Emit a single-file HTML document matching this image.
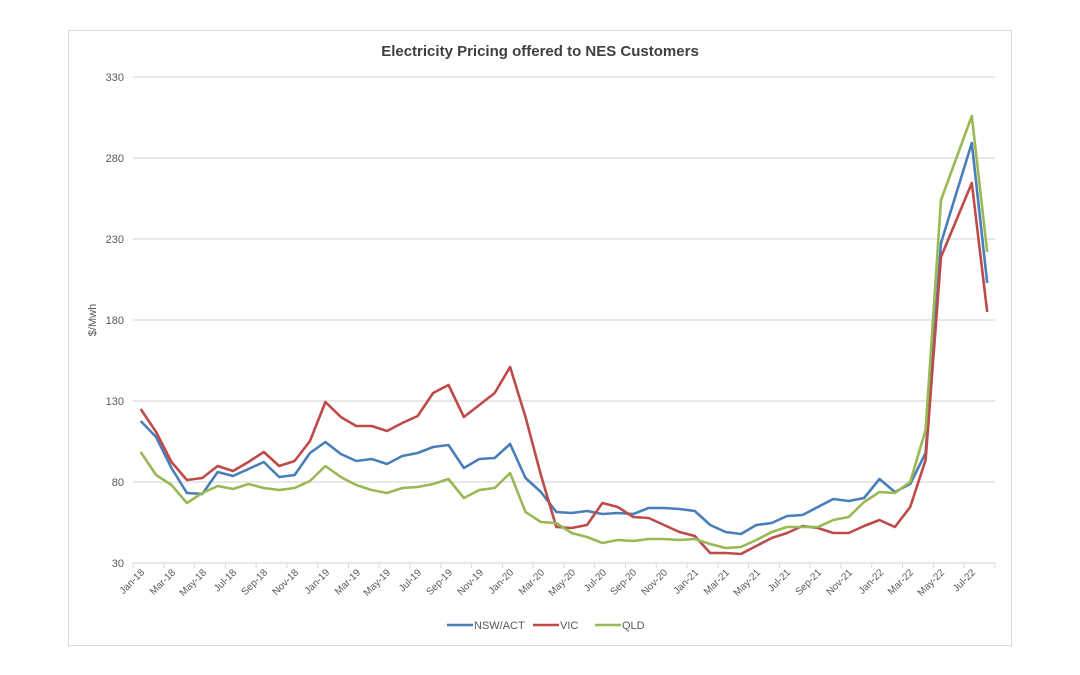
<!DOCTYPE html>
<html><head><meta charset="utf-8"><style>
html,body{margin:0;padding:0;background:#fff;}
svg{display:block;font-family:"Liberation Sans",Calibri,sans-serif;}
</style></head><body>
<svg width="1080" height="675" viewBox="0 0 1080 675" xmlns="http://www.w3.org/2000/svg">
<rect x="68.5" y="30.5" width="943" height="615" fill="#fff" stroke="#d9d9d9" stroke-width="1"/>
<text x="540" y="56" text-anchor="middle" font-size="15" font-weight="bold" fill="#404040">Electricity Pricing offered to NES Customers</text>
<g stroke="#d9d9d9" stroke-width="1.3">
<line x1="133" y1="77" x2="995" y2="77"/>
<line x1="133" y1="158" x2="995" y2="158"/>
<line x1="133" y1="239" x2="995" y2="239"/>
<line x1="133" y1="320" x2="995" y2="320"/>
<line x1="133" y1="401" x2="995" y2="401"/>
<line x1="133" y1="482" x2="995" y2="482"/>
<line x1="133" y1="563" x2="995" y2="563"/>
</g>
<g stroke="#d9d9d9" stroke-width="1">
<line x1="133" y1="563" x2="133" y2="568"/><line x1="163.8" y1="563" x2="163.8" y2="568"/><line x1="194.6" y1="563" x2="194.6" y2="568"/><line x1="225.3" y1="563" x2="225.3" y2="568"/><line x1="256.1" y1="563" x2="256.1" y2="568"/><line x1="286.9" y1="563" x2="286.9" y2="568"/><line x1="317.7" y1="563" x2="317.7" y2="568"/><line x1="348.5" y1="563" x2="348.5" y2="568"/><line x1="379.2" y1="563" x2="379.2" y2="568"/><line x1="410" y1="563" x2="410" y2="568"/><line x1="440.8" y1="563" x2="440.8" y2="568"/><line x1="471.6" y1="563" x2="471.6" y2="568"/><line x1="502.4" y1="563" x2="502.4" y2="568"/><line x1="533.1" y1="563" x2="533.1" y2="568"/><line x1="563.9" y1="563" x2="563.9" y2="568"/><line x1="594.7" y1="563" x2="594.7" y2="568"/><line x1="625.5" y1="563" x2="625.5" y2="568"/><line x1="656.3" y1="563" x2="656.3" y2="568"/><line x1="687" y1="563" x2="687" y2="568"/><line x1="717.8" y1="563" x2="717.8" y2="568"/><line x1="748.6" y1="563" x2="748.6" y2="568"/><line x1="779.4" y1="563" x2="779.4" y2="568"/><line x1="810.2" y1="563" x2="810.2" y2="568"/><line x1="840.9" y1="563" x2="840.9" y2="568"/><line x1="871.7" y1="563" x2="871.7" y2="568"/><line x1="902.5" y1="563" x2="902.5" y2="568"/><line x1="933.3" y1="563" x2="933.3" y2="568"/><line x1="964.1" y1="563" x2="964.1" y2="568"/><line x1="995" y1="563" x2="995" y2="568"/>
</g>
<g font-size="11" fill="#595959" text-anchor="end">
<text x="124" y="81">330</text><text x="124" y="162">280</text><text x="124" y="243">230</text><text x="124" y="324">180</text><text x="124" y="405">130</text><text x="124" y="486">80</text><text x="124" y="567">30</text>
</g>
<text transform="translate(96,320) rotate(-90)" text-anchor="middle" font-size="11" fill="#595959">$/Mwh</text>
<g font-size="10" fill="#595959" text-anchor="end">
<text transform="translate(145,573) rotate(-45)">Jan-18</text>
<text transform="translate(176,573) rotate(-45)">Mar-18</text>
<text transform="translate(207,573) rotate(-45)">May-18</text>
<text transform="translate(237,573) rotate(-45)">Jul-18</text>
<text transform="translate(268,573) rotate(-45)">Sep-18</text>
<text transform="translate(299,573) rotate(-45)">Nov-18</text>
<text transform="translate(330,573) rotate(-45)">Jan-19</text>
<text transform="translate(361,573) rotate(-45)">Mar-19</text>
<text transform="translate(391,573) rotate(-45)">May-19</text>
<text transform="translate(422,573) rotate(-45)">Jul-19</text>
<text transform="translate(453,573) rotate(-45)">Sep-19</text>
<text transform="translate(484,573) rotate(-45)">Nov-19</text>
<text transform="translate(514,573) rotate(-45)">Jan-20</text>
<text transform="translate(545,573) rotate(-45)">Mar-20</text>
<text transform="translate(576,573) rotate(-45)">May-20</text>
<text transform="translate(607,573) rotate(-45)">Jul-20</text>
<text transform="translate(637,573) rotate(-45)">Sep-20</text>
<text transform="translate(668,573) rotate(-45)">Nov-20</text>
<text transform="translate(699,573) rotate(-45)">Jan-21</text>
<text transform="translate(730,573) rotate(-45)">Mar-21</text>
<text transform="translate(761,573) rotate(-45)">May-21</text>
<text transform="translate(791,573) rotate(-45)">Jul-21</text>
<text transform="translate(822,573) rotate(-45)">Sep-21</text>
<text transform="translate(853,573) rotate(-45)">Nov-21</text>
<text transform="translate(884,573) rotate(-45)">Jan-22</text>
<text transform="translate(914,573) rotate(-45)">Mar-22</text>
<text transform="translate(945,573) rotate(-45)">May-22</text>
<text transform="translate(976,573) rotate(-45)">Jul-22</text>
</g>
<g fill="none" stroke-width="2.6" stroke-linejoin="round">
<polyline stroke="#4a7ebb" points="140.7,421 156.1,437 171.5,468 186.9,493 202.3,494 217.7,472 233,476 248.4,469 263.8,462 279.2,477 294.6,475 310,453 325.4,442 340.8,454 356.2,461 371.6,459 387,464 402.3,456 417.7,453 433.1,447 448.5,445 463.9,468 479.3,459 494.7,458 510.1,444 525.5,478 540.9,492 556.3,512 571.6,513 587,511 602.4,514 617.8,513 633.2,514 648.6,508 664,508 679.4,509 694.8,511 710.2,525 725.6,532 740.9,534 756.3,525 771.7,523 787.1,516 802.5,515 817.9,507 833.3,499 848.7,501 864.1,498 879.5,479 894.9,492 910.2,484 925.6,453 941,243 956.4,193 971.8,143 987.2,283"/>
<polyline stroke="#be4b48" points="140.7,409 156.1,432 171.5,462 186.9,480 202.3,478 217.7,466 233,471 248.4,462 263.8,452 279.2,466 294.6,461 310,441 325.4,402 340.8,417 356.2,426 371.6,426 387,431 402.3,423 417.7,416 433.1,393 448.5,385 463.9,417 479.3,405 494.7,393 510.1,367 525.5,417 540.9,475 556.3,527 571.6,528 587,525 602.4,503 617.8,507 633.2,517 648.6,518 664,525 679.4,532 694.8,536 710.2,553 725.6,553 740.9,554 756.3,546 771.7,538 787.1,533 802.5,526 817.9,528 833.3,533 848.7,533 864.1,526 879.5,520 894.9,527 910.2,507 925.6,460 941,257 956.4,220 971.8,183 987.2,312"/>
<polyline stroke="#98b954" points="140.7,452 156.1,475 171.5,485 186.9,503 202.3,493 217.7,486 233,489 248.4,484 263.8,488 279.2,490 294.6,488 310,481 325.4,466 340.8,477 356.2,485 371.6,490 387,493 402.3,488 417.7,487 433.1,484 448.5,479 463.9,498 479.3,490 494.7,488 510.1,473 525.5,512 540.9,522 556.3,523 571.6,533 587,537 602.4,543 617.8,540 633.2,541 648.6,539 664,539 679.4,540 694.8,539 710.2,544 725.6,548 740.9,547 756.3,540 771.7,532 787.1,527 802.5,527 817.9,527 833.3,520 848.7,517 864.1,502 879.5,492 894.9,493 910.2,482 925.6,430 941,200 956.4,158 971.8,116 987.2,252"/>
</g>
<g stroke-width="2.6">
<line x1="447" y1="625" x2="473" y2="625" stroke="#4a7ebb"/>
<line x1="533" y1="625" x2="559" y2="625" stroke="#be4b48"/>
<line x1="595" y1="625" x2="621" y2="625" stroke="#98b954"/>
</g>
<g font-size="11" fill="#595959">
<text x="474" y="629">NSW/ACT</text>
<text x="560" y="629">VIC</text>
<text x="622" y="629">QLD</text>
</g>
</svg>
</body></html>
